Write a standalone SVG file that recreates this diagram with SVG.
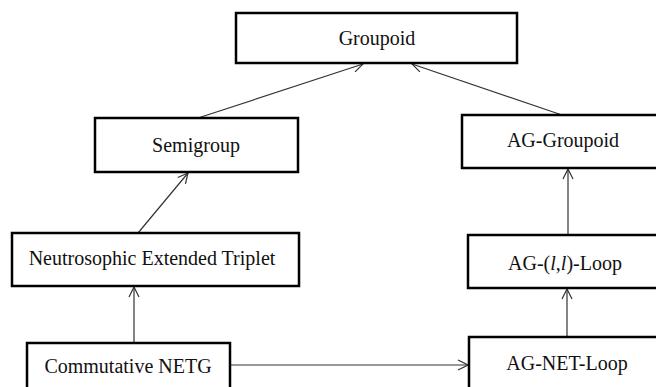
<svg xmlns="http://www.w3.org/2000/svg" width="656" height="387" viewBox="0 0 656 387">
<style>
.box{fill:#fff;stroke:#000;stroke-width:2.5}
.lbl{font-family:"Liberation Serif","Times New Roman",serif;font-size:20px;fill:#111;text-anchor:middle}
.con{stroke:#333;stroke-width:1.2;fill:none}
</style>
<defs>
<marker id="ah" viewBox="0 0 12 12" refX="11" refY="6" markerWidth="12" markerHeight="12" markerUnits="userSpaceOnUse" orient="auto">
<path d="M1,1 L11,6 L1,11" fill="none" stroke="#333" stroke-width="1.2"/>
</marker>
</defs>
<rect width="656" height="387" fill="#fff"/>
<g id="connectors">
<line class="con" x1="198" y1="118" x2="363" y2="64" marker-end="url(#ah)"/>
<line class="con" x1="562" y1="115" x2="412" y2="64" marker-end="url(#ah)"/>
<line class="con" x1="138" y1="233" x2="188" y2="173" marker-end="url(#ah)"/>
<line class="con" x1="134" y1="343" x2="134" y2="287" marker-end="url(#ah)"/>
<line class="con" x1="230" y1="365" x2="468" y2="365" marker-end="url(#ah)"/>
<line class="con" x1="568" y1="235" x2="568" y2="169" marker-end="url(#ah)"/>
<line class="con" x1="567" y1="337" x2="567" y2="289" marker-end="url(#ah)"/>
</g>
<g id="groupoid">
<rect class="box" x="236" y="13" width="281" height="50"/>
<text class="lbl" x="377" y="45">Groupoid</text>
</g>
<g id="semigroup">
<rect class="box" x="95" y="118" width="203" height="54"/>
<text class="lbl" x="196" y="152">Semigroup</text>
</g>
<g id="net">
<rect class="box" x="12" y="233" width="287" height="53"/>
<text class="lbl" x="152" y="265">Neutrosophic Extended Triplet</text>
</g>
<g id="cnetg">
<rect class="box" x="27" y="343" width="203" height="60"/>
<text class="lbl" x="128" y="373">Commutative NETG</text>
</g>
<g id="aggroupoid">
<rect class="box" x="462" y="115" width="210" height="53"/>
<text class="lbl" x="563" y="147">AG-Groupoid</text>
</g>
<g id="agll">
<rect class="box" x="468" y="235" width="210" height="53"/>
<text class="lbl" x="565" y="270">AG-(<tspan font-style="italic">l</tspan>,<tspan font-style="italic">l</tspan>)-Loop</text>
</g>
<g id="agnet">
<rect class="box" x="469" y="337" width="210" height="60"/>
<text class="lbl" x="567" y="370">AG-NET-Loop</text>
</g>
</svg>
